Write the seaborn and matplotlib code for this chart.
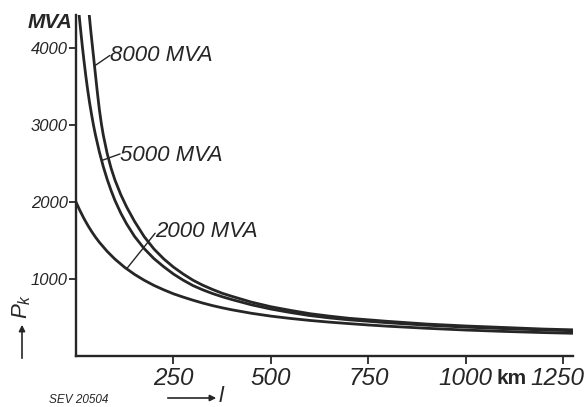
import pandas as pd
import matplotlib
matplotlib.use("Agg")
import matplotlib.pyplot as plt
import matplotlib.transforms as mtransforms
import seaborn as sns

# values: line length l (km) -> short-circuit power P_k (MVA)
l_8000 = [34, 38, 42, 46, 50, 55, 60, 65, 70, 80, 90, 100, 115, 130, 150, 175, 200, 225,
          250, 275, 300, 325, 350, 375, 400, 450, 500, 550, 600, 650, 700, 800, 900, 1000,
          1100, 1200, 1275]
p_8000 = [4430, 4220, 4030, 3840, 3650, 3415, 3200, 3020, 2870, 2630, 2440, 2285, 2095, 1935,
          1750, 1550, 1390, 1262, 1155, 1065, 985, 920, 865, 815, 775, 700, 640, 593, 550,
          518, 490, 450, 415, 390, 370, 350, 340]

l_5000 = [8, 12, 16, 20, 25, 30, 35, 40, 45, 50, 60, 70, 80, 90, 100, 115, 130, 150, 175, 200,
          225, 250, 275, 300, 325, 350, 375, 400, 450, 500, 550, 600, 650, 700, 800, 900,
          1000, 1100, 1200, 1275]
p_5000 = [4430, 4230, 4035, 3855, 3645, 3455, 3285, 3135, 2995, 2870, 2650, 2460, 2295, 2150,
          2020, 1855, 1715, 1555, 1395, 1265, 1160, 1065, 985, 915, 860, 812, 770, 733, 665,
          610, 565, 525, 495, 470, 432, 400, 375, 355, 338, 328]

l_2000 = [0, 10, 20, 30, 40, 50, 60, 80, 100, 125, 150, 175, 200, 225, 250, 275, 300, 325,
          350, 375, 400, 450, 500, 550, 600, 650, 700, 750, 800, 900, 1000, 1100, 1200, 1275]
p_2000 = [2000, 1890, 1790, 1700, 1618, 1544, 1477, 1359, 1258, 1151, 1061, 984, 917, 860,
          808, 765, 725, 688, 655, 626, 600, 555, 518, 488, 462, 440, 421, 403, 387, 360,
          337, 319, 304, 295]

series = ["8000 MVA", "5000 MVA", "2000 MVA"]
x_ticks = [250, 500, 750, 1000, 1250]
y_ticks = [1000, 2000, 3000, 4000]

df = pd.concat([
    pd.DataFrame({"l": l_8000, "P": p_8000, "S": series[0]}),
    pd.DataFrame({"l": l_5000, "P": p_5000, "S": series[1]}),
    pd.DataFrame({"l": l_2000, "P": p_2000, "S": series[2]}),
])

sns.set_theme(style="ticks")
plt.rcParams["font.family"] = ["Liberation Sans", "DejaVu Sans"]
plt.rcParams["mathtext.fontset"] = "custom"
plt.rcParams["mathtext.it"] = "Liberation Sans:italic"
plt.rcParams["mathtext.rm"] = "Liberation Sans"

ink = "#262626"
W, H = 584, 407
fig = plt.figure(figsize=(W / 100, H / 100), dpi=100)
ax = fig.add_axes([76 / W, 1 - 356 / H, 497 / W, 341 / H])

sns.lineplot(data=df, x="l", y="P", hue="S", palette=[ink] * 3, sort=False,
             estimator=None, legend=False, lw=2.0, ax=ax)

ax.set_xlim(0, 1275)
ax.set_ylim(0, 4430)
sns.despine(ax=ax)
for s in ["left", "bottom"]:
    ax.spines[s].set_linewidth(1.7)
    ax.spines[s].set_color(ink)

ax.set_xticks(x_ticks)
ax.set_xticklabels([str(v) for v in x_ticks], fontsize=17.5, style="italic", color=ink)
ax.set_yticks(y_ticks)
ax.set_yticklabels([str(v) for v in y_ticks], fontsize=12, style="italic", color=ink)
ax.tick_params(axis="x", direction="out", length=6, width=1.3, color=ink, pad=2)
ax.tick_params(axis="y", direction="out", length=5, width=1.3, color=ink, pad=1)
last = ax.get_xticklabels()[-1]
last.set_transform(last.get_transform() + mtransforms.ScaledTranslation(-0.06, 0, fig.dpi_scale_trans))
ax.set_xlabel("")
ax.set_ylabel("")

# curve labels with leader lines
ax.plot([48, 87], [3770, 3905], color=ink, lw=1.0)
ax.text(87, 3909, "8000 MVA", fontsize=16, style="italic", color=ink, ha="left", va="center")
ax.plot([66, 113], [2540, 2625], color=ink, lw=1.0)
ax.text(113, 2600, "5000 MVA", fontsize=16, style="italic", color=ink, ha="left", va="center")
ax.plot([131, 203], [1140, 1595], color=ink, lw=1.0)
ax.text(203, 1614, "2000 MVA", fontsize=16, style="italic", color=ink, ha="left", va="center")

# unit, axis names and plate number
fig.text(72 / W, 1 - 23 / H, "MVA", fontsize=15, style="italic", weight="bold",
         color=ink, ha="right", va="center")
fig.text(512 / W, 1 - 378 / H, "km", fontsize=15, weight="bold", color=ink,
         ha="center", va="center")
fig.text(22 / W, 1 - 306 / H, r"$P_k$", fontsize=16, rotation=90, color=ink,
         ha="center", va="center")
ax.annotate("", xy=(22 / W, 1 - 322 / H), xytext=(22 / W, 1 - 361 / H),
            xycoords="figure fraction", textcoords="figure fraction",
            arrowprops=dict(arrowstyle="-|>", lw=1.2, color=ink, mutation_scale=9))
fig.text(222 / W, 1 - 396 / H, r"$l$", fontsize=16, color=ink, ha="center", va="center")
ax.annotate("", xy=(219 / W, 1 - 398 / H), xytext=(165 / W, 1 - 398 / H),
            xycoords="figure fraction", textcoords="figure fraction",
            arrowprops=dict(arrowstyle="-|>", lw=1.2, color=ink, mutation_scale=9))
fig.text(49 / W, 1 - 400 / H, "SEV 20504", fontsize=8.5, style="italic", color=ink,
         ha="left", va="center")

fig.savefig("out.png", dpi=100, facecolor="white")
